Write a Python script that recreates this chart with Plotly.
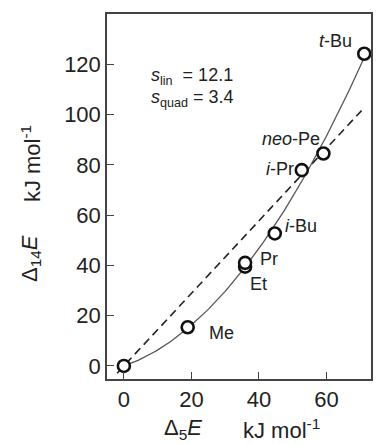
import numpy as np
import plotly.graph_objects as go

# data
names = ["", "Me", "Et", "Pr", "i-Bu", "i-Pr", "neo-Pe", "t-Bu"]
d5E = [0.0, 18.9, 35.9, 35.9, 44.7, 52.7, 59.1, 71.2]
d14E = [0.0, 15.4, 39.5, 41.0, 52.7, 77.9, 84.5, 124.2]
label_text = ["Me", "Et", "Pr", "<i>i</i>-Bu", "<i>i</i>-Pr", "<i>neo</i>-Pe", "<i>t</i>-Bu"]
label_x = [29.0, 40.0, 43.0, 52.5, 46.2, 49.4, 62.7]
label_y = [13.2, 32.7, 42.7, 55.6, 78.3, 90.1, 129.4]
dash_x = [-2.0, 70.4]
quad_x_range = [0.0, 71.2]

X = np.array(d5E)
Y = np.array(d14E)
# linear fit through origin
k = float((X * Y).sum() / (X * X).sum())
# quadratic fit through origin
A = np.vstack([X, X ** 2]).T
coef, *_ = np.linalg.lstsq(A, Y, rcond=None)
xs = np.linspace(quad_x_range[0], quad_x_range[1], 120)
ys = coef[0] * xs + coef[1] * xs ** 2

FONT = "Liberation Sans, Arial, sans-serif"
fig = go.Figure()
fig.add_trace(go.Scatter(x=dash_x, y=[k * v for v in dash_x], mode="lines",
                         line=dict(color="#222", width=1.6, dash="8px,5px"), hoverinfo="skip"))
fig.add_trace(go.Scatter(x=xs, y=ys, mode="lines",
                         line=dict(color="#555", width=1.3), hoverinfo="skip"))
fig.add_trace(go.Scatter(x=d5E, y=d14E, mode="markers",
                         marker=dict(symbol="circle", size=12, color="white",
                                     line=dict(color="#111", width=2.6))))

for t, x, y in zip(label_text, label_x, label_y):
    fig.add_annotation(x=x, y=y, text=t, showarrow=False,
                       font=dict(family=FONT, size=18, color="#222"))

fig.add_annotation(xref="paper", yref="paper", x=0.16, y=0.866, xanchor="left",
                   text="<i>s</i><sub>lin</sub>  = 12.1", showarrow=False,
                   font=dict(family=FONT, size=18, color="#222"))
fig.add_annotation(xref="paper", yref="paper", x=0.16, y=0.806, xanchor="left",
                   text="<i>s</i><sub>quad</sub> = 3.4", showarrow=False,
                   font=dict(family=FONT, size=18, color="#222"))

# axis titles
fig.add_annotation(xref="paper", yref="paper", x=0.21, y=-0.137, text="Δ<sub>5</sub><i>E</i>",
                   showarrow=False, yanchor="middle", font=dict(family=FONT, size=22, color="#222"))
fig.add_annotation(xref="paper", yref="paper", x=0.66, y=-0.137, text="kJ mol<sup>-1</sup>",
                   showarrow=False, yanchor="middle", font=dict(family=FONT, size=22, color="#222"))
fig.add_annotation(xref="paper", yref="paper", x=-0.29, y=0.33, yanchor="middle",
                   text="Δ<sub>14</sub><i>E</i>",
                   showarrow=False, textangle=-90, xanchor="center",
                   font=dict(family=FONT, size=22, color="#222"))
fig.add_annotation(xref="paper", yref="paper", x=-0.29, y=0.59, yanchor="middle",
                   text="kJ mol<sup>-1</sup>",
                   showarrow=False, textangle=-90, xanchor="center",
                   font=dict(family=FONT, size=22, color="#222"))

axis_common = dict(showgrid=False, zeroline=False, showline=True, linecolor="#444",
                   linewidth=1.5, mirror=True, ticks="inside", ticklen=7, tickwidth=1.3,
                   tickcolor="#444", tickfont=dict(family=FONT, size=22, color="#222"))
fig.update_xaxes(range=[-5, 73.2], tickvals=[0, 20, 40, 60], **axis_common)
fig.update_yaxes(range=[-5.2, 140], tickvals=[0, 20, 40, 60, 80, 100, 120], **axis_common)

fig.update_layout(width=381, height=444, margin=dict(l=107, r=8, t=14, b=65),
                  plot_bgcolor="white", paper_bgcolor="white", showlegend=False)
fig.write_html("out.html")
